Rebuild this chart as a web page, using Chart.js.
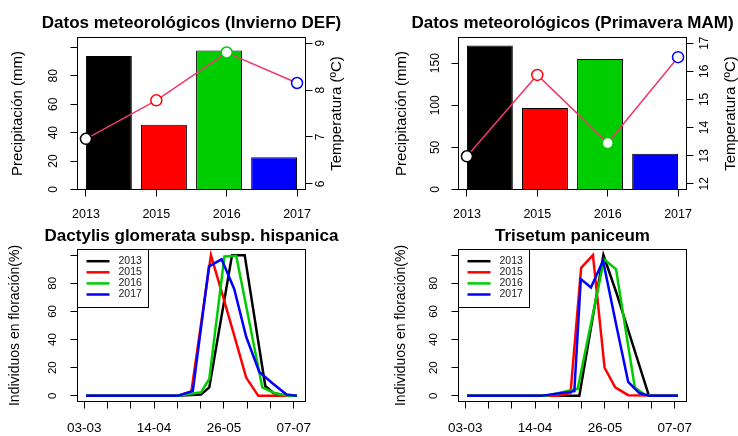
<!DOCTYPE html>
<html>
<head>
<meta charset="utf-8">
<script src="https://cdn.jsdelivr.net/npm/chart.js@4.4.0/dist/chart.umd.min.js"></script>
<style>
  body { margin: 0; background: #fff; }
  #wrap { position: relative; width: 738px; height: 436px; }
  canvas { position: absolute; }
</style>
</head>
<body>
<div id="wrap">
  <canvas id="chartDEF" width="369" height="218" style="left:0;top:0"></canvas>
  <canvas id="chartMAM" width="369" height="218" style="left:369px;top:0"></canvas>
  <canvas id="chartDact" width="369" height="218" style="left:0;top:218px"></canvas>
  <canvas id="chartTris" width="369" height="218" style="left:369px;top:218px"></canvas>
</div>
<script>
  const years = ["2013", "2015", "2016", "2017"];
  const yearColors = ["#000000", "#ff0000", "#00cd00", "#0000ff"];
  const tempLine = "#ee3a68";

  // precipitacion (mm) y temperatura (ºC) por año
  const precipDEF = [94, 45.6, 97.8, 22.7];
  const tempDEF = [6.96, 7.78, 8.8, 8.15];
  const precipMAM = [171, 96.8, 155, 42.6];
  const tempMAM = [12.98, 15.87, 13.45, 16.5];

  const precipTicksDEF = [0, 20, 40, 60, 80, 100];
  const precipLabelsDEF = ["0", "20", "40", "60", "80", ""];
  const tempTicksDEF = [6, 7, 8, 9];
  const precipTicksMAM = [0, 50, 100, 150];
  const precipLabelsMAM = ["0", "50", "100", "150"];
  const tempTicksMAM = [12, 13, 14, 15, 16, 17];

  // floracion: dia del año / % individuos
  const dayTicks = [62, 76, 90, 104, 118, 132, 146, 160, 174, 188];
  const dayLabels = ["03-03", "", "", "14-04", "", "", "26-05", "", "", "07-07"];
  const pctTicks = [0, 20, 40, 60, 80, 100];
  const pctLabels = ["0", "20", "40", "60", "80", ""];

  const dactDays2013 = [63, 118, 132.2, 137.2, 150.9, 158.5, 170.9, 175.8, 183.7, 190];
  const dactPct2013 = [0, 0, 1, 6, 100, 100, 7, 2, 0, 0];
  const dactDays2015 = [63, 118, 126.4, 138.2, 144.6, 152.2, 159.4, 166.7, 190];
  const dactPct2015 = [0, 0, 3, 100, 74, 43, 13, 0, 0];
  const dactDays2016 = [63, 118, 132.2, 137.2, 146.3, 153.4, 169.1, 176.4, 184.9, 190];
  const dactPct2016 = [0, 0, 2.5, 12, 99, 99.5, 6, 2, 0, 0];
  const dactDays2017 = [63, 118, 127.3, 137, 144.6, 152.2, 159.4, 167.3, 175.2, 183.7, 190];
  const dactPct2017 = [0, 0, 3.5, 92, 97, 76, 42, 17, 9, 1, 0];

  const trisDays2013 = [63, 130.6, 145.1, 152.7, 172.5, 190];
  const trisPct2013 = [0, 0, 100, 74, 0, 0];
  const trisDays2015 = [63, 118, 125.3, 131.7, 138.8, 145.8, 152.2, 160, 190];
  const trisPct2015 = [0, 0, 2, 91, 100, 20, 6, 0.5, 0];
  const trisDays2016 = [63, 110.3, 129.6, 145.5, 152.7, 164, 169.9, 174, 190];
  const trisPct2016 = [0, 0, 5, 97, 90, 6, 1, 0, 0];
  const trisDays2017 = [63, 107.3, 127.6, 131.5, 137.6, 144.9, 152.7, 160, 166.7, 172.8, 190];
  const trisPct2017 = [0, 0, 3.3, 83, 77, 96, 51, 10, 2, 0, 0];

  const family = "'Liberation Sans', Arial, Helvetica, sans-serif";
  Chart.defaults.font.family = family;
  Chart.defaults.color = "#000";
  Chart.defaults.animation = false;

  // R style box around the plot region
  const frame = {
    id: "frame",
    afterDraw(chart) {
      const { ctx, chartArea: a } = chart;
      ctx.save();
      ctx.strokeStyle = "#000";
      ctx.lineWidth = 1;
      ctx.strokeRect(a.left, a.top, a.right - a.left, a.bottom - a.top);
      ctx.restore();
    },
  };

  // main title centred over the plot region, like title(main=)
  const mainTitle = {
    id: "mainTitle",
    afterDraw(chart, args, opts) {
      const { ctx, chartArea: a } = chart;
      ctx.save();
      ctx.font = "bold 17px " + family;
      ctx.fillStyle = "#000";
      ctx.textAlign = "center";
      ctx.textBaseline = "alphabetic";
      ctx.fillText(opts.text, (a.left + a.right) / 2, opts.y);
      ctx.restore();
    },
  };

  // right axis title, read bottom to top like mtext(side = 4)
  const rightTitle = {
    id: "rightTitle",
    afterDraw(chart, args, opts) {
      const { ctx, chartArea: a } = chart;
      ctx.save();
      ctx.translate(opts.x, (a.top + a.bottom) / 2);
      ctx.rotate(-Math.PI / 2);
      ctx.font = "15px " + family;
      ctx.fillStyle = "#000";
      ctx.textAlign = "center";
      ctx.textBaseline = "middle";
      ctx.fillText(opts.text, 0, 0);
      ctx.restore();
    },
  };

  // legend box in the top left corner of the plot
  const boxLegend = {
    id: "boxLegend",
    afterDatasetsDraw(chart) {
      const { ctx, chartArea: a } = chart;
      ctx.save();
      ctx.fillStyle = "#fff";
      ctx.fillRect(a.left, a.top, 71, 58);
      ctx.strokeStyle = "#000";
      ctx.lineWidth = 1;
      ctx.strokeRect(a.left, a.top, 71, 58);
      ctx.font = "10.5px " + family;
      ctx.textBaseline = "middle";
      chart.data.datasets.forEach((ds, i) => {
        const y = a.top + 11.7 + i * 11.1;
        ctx.strokeStyle = ds.borderColor;
        ctx.lineWidth = 2.5;
        ctx.beginPath();
        ctx.moveTo(a.left + 9, y);
        ctx.lineTo(a.left + 32, y);
        ctx.stroke();
        ctx.fillStyle = "#222";
        ctx.fillText(ds.label, a.left + 41, y);
      });
      ctx.restore();
    },
  };

  const tickGrid = { drawOnChartArea: false, offset: false, tickLength: 7, color: "#000", lineWidth: 1 };

  function setTicks(values) {
    return (s) => {
      s.ticks = values.map((v) => ({ value: v }));
    };
  }

  function rotTicks(labels, size, padding) {
    return {
      autoSkip: false,
      minRotation: 90,
      maxRotation: 90,
      crossAlign: "center",
      padding: padding,
      font: { size: size },
      callback: (v, i) => labels[i],
    };
  }

  // barplot() places bars at 0.7, 1.9, 3.1, ... (width 1, space 0.2)
  const barX = (i) => 0.7 + 1.2 * i;

  function meteoChart(id, o) {
    new Chart(document.getElementById(id), {
      type: "bar",
      data: {
        datasets: [
          {
            type: "line",
            data: o.temp.map((t, i) => ({ x: i + 1, y: t })),
            xAxisID: "x",
            yAxisID: "yT",
            borderColor: tempLine,
            borderWidth: 1.5,
            pointRadius: 5.5,
            pointBorderWidth: 1.5,
            pointBackgroundColor: "#fff",
            pointBorderColor: yearColors,
            order: 0,
          },
          {
            type: "bar",
            data: o.precip.map((p, i) => ({ x: barX(i), y: p })),
            xAxisID: "xb",
            yAxisID: "y",
            backgroundColor: yearColors,
            borderColor: "#000",
            borderWidth: 1,
            grouped: false,
            barPercentage: 1 / 1.2,
            categoryPercentage: 1,
            order: 1,
          },
        ],
      },
      options: {
        responsive: false,
        layout: { padding: { top: 37.5 } },
        plugins: {
          legend: { display: false },
          tooltip: { enabled: false },
          mainTitle: { text: o.title, y: 28.2 },
          rightTitle: { text: "Temperatura (ºC)", x: o.rTitleX },
        },
        scales: {
          x: {
            type: "linear",
            position: "bottom",
            min: 0.88,
            max: 4.12,
            offset: false,
            afterBuildTicks: setTicks(years.map((y, i) => i + 1)),
            ticks: { autoSkip: false, maxRotation: 0, padding: 10.5, font: { size: 12.5 }, callback: (v, i) => years[i] },
            grid: tickGrid,
            border: { display: false },
            afterFit: (s) => { s.height = 28.5; },
          },
          xb: {
            type: "linear",
            display: false,
            min: 0.016,
            max: 4.984,
            offset: false,
            afterBuildTicks: setTicks(o.precip.map((p, i) => barX(i))),
          },
          y: {
            type: "linear",
            position: "left",
            min: 0,
            max: o.precipMax,
            afterBuildTicks: setTicks(o.precipTicks),
            ticks: rotTicks(o.precipLabels, 12, o.leftPad),
            grid: tickGrid,
            border: { display: false },
            title: { display: true, text: "Precipitación (mm)", font: { size: 15 }, padding: { top: o.titlePad, bottom: 0 } },
            afterFit: (s) => { s.width = o.left; },
          },
          yT: {
            type: "linear",
            position: "right",
            min: o.tempMin,
            max: o.tempMax,
            afterBuildTicks: setTicks(o.tempTicks),
            ticks: rotTicks(o.tempTicks.map(String), 12, 4.5),
            grid: tickGrid,
            border: { display: false },
            afterFit: (s) => { s.width = o.right; },
          },
        },
      },
      plugins: [frame, mainTitle, rightTitle],
    });
  }

  function phenoChart(id, o) {
    new Chart(document.getElementById(id), {
      type: "line",
      data: {
        datasets: o.days.map((days, i) => ({
          label: years[i],
          data: days.map((d, k) => ({ x: d, y: o.pct[i][k] })),
          borderColor: yearColors[i],
          borderWidth: 2.5,
          pointRadius: 0,
          order: 3 - i,
        })),
      },
      options: {
        responsive: false,
        layout: { padding: { top: 31.5, right: o.right } },
        plugins: {
          legend: { display: false },
          tooltip: { enabled: false },
          mainTitle: { text: o.title, y: 22.5 },
        },
        scales: {
          x: {
            type: "linear",
            min: 57.9,
            max: 195.1,
            offset: false,
            afterBuildTicks: setTicks(dayTicks),
            ticks: { autoSkip: false, maxRotation: 0, padding: 12, font: { size: 13.5 }, callback: (v, i) => dayLabels[i] },
            grid: tickGrid,
            border: { display: false },
            afterFit: (s) => { s.height = 34.5; },
          },
          y: {
            type: "linear",
            min: -4,
            max: 104,
            afterBuildTicks: setTicks(pctTicks),
            ticks: rotTicks(pctLabels, 11.5, 11),
            grid: tickGrid,
            border: { display: false },
            title: { display: true, text: "Individuos en floración(%)", font: { size: 14 }, padding: { top: o.titlePad, bottom: 0 } },
            afterFit: (s) => { s.width = o.left; },
          },
        },
      },
      plugins: [boxLegend, frame, mainTitle],
    });
  }

  meteoChart("chartDEF", {
    title: "Datos meteorológicos (Invierno DEF)",
    precip: precipDEF, temp: tempDEF,
    precipMax: 107, precipTicks: precipTicksDEF, precipLabels: precipLabelsDEF,
    tempMin: 5.88, tempMax: 9.12, tempTicks: tempTicksDEF,
    left: 77.5, right: 63.5, leftPad: 10.5, titlePad: 9, rTitleX: 337,
  });

  meteoChart("chartMAM", {
    title: "Datos meteorológicos (Primavera MAM)",
    precip: precipMAM, temp: tempMAM,
    precipMax: 180.5, precipTicks: precipTicksMAM, precipLabels: precipLabelsMAM,
    tempMin: 11.8, tempMax: 17.2, tempTicks: tempTicksMAM,
    left: 89.5, right: 51.5, leftPad: 5.8, titlePad: 24, rTitleX: 362,
  });

  phenoChart("chartDact", {
    title: "Dactylis glomerata subsp. hispanica",
    days: [dactDays2013, dactDays2015, dactDays2016, dactDays2017],
    pct: [dactPct2013, dactPct2015, dactPct2016, dactPct2017],
    left: 77.5, right: 63.5, titlePad: 6.6,
  });

  phenoChart("chartTris", {
    title: "Trisetum paniceum",
    days: [trisDays2013, trisDays2015, trisDays2016, trisDays2017],
    pct: [trisPct2013, trisPct2015, trisPct2016, trisPct2017],
    left: 89.5, right: 51.5, titlePad: 23.3,
  });
</script>
</body>
</html>
